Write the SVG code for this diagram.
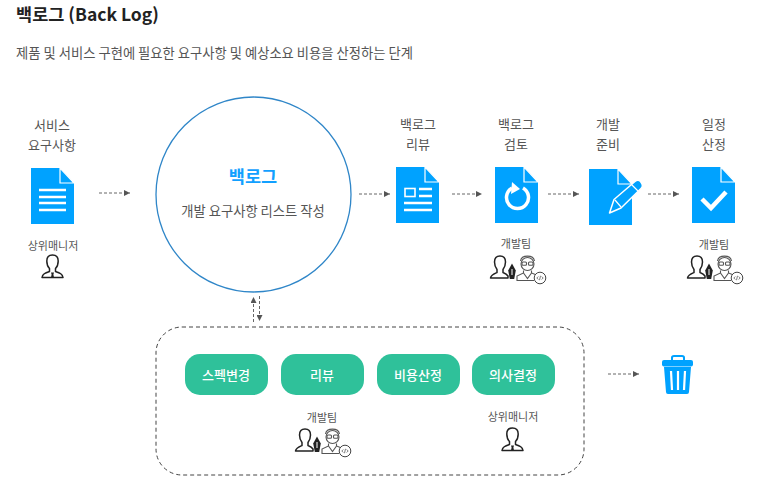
<svg xmlns="http://www.w3.org/2000/svg" width="773" height="491" viewBox="0 0 773 491">
<style>
text{font-family:"Noto Sans CJK KR","Noto Sans",sans-serif;text-anchor:middle;fill:#555}
.lab{font-size:13px}
.sm{font-size:11px}
.pill{fill:#2fc19a}
.pilltx{font-size:13px;font-weight:500;fill:#fff}
.conn{stroke:#666;stroke-width:1;stroke-dasharray:3 2;fill:none}
.doc{fill:#00a2ff}
.fold{fill:#00a2ff;stroke:#fff;stroke-width:1.2}
.w{stroke:#fff;stroke-width:2.400;fill:none}
.ic{fill:none;stroke:#222;stroke-width:1.500;stroke-linejoin:round}
.ic2{fill:none;stroke:#555;stroke-width:1.100}
</style>
<defs>
<marker id="a" markerWidth="7" markerHeight="6" refX="6" refY="3" orient="auto-start-reverse" markerUnits="userSpaceOnUse"><path d="M0 0L6 3L0 6z" fill="#555"/></marker>
<path id="docb" d="M0 0H29L43 15V56H0z"/>
<path id="docf" d="M29 0V15H43z"/>
<g id="person">
<path class="ic" d="M1 23.500C1.500 20 4 19 8.500 17.500V14.500C6.500 12.500 5.800 9.500 5.800 7C5.800 3 8 1 11.500 1S17.200 3 17.200 7C17.200 9.500 16.500 12.500 14.500 14.500V17.500C19 19 21.500 20 22 23.500z"/>
<path d="M10 18.500h3l-.6 2 .6 3h-3l.6-3z" fill="#222"/>
</g>
<g id="team">
<path class="ic" d="M.5 23C1 20 3.500 19 7 17.500V14.500C5.500 12.500 4.500 10 4.500 7C4.500 3 6.500 1 10 1S15.500 3 15.500 7C15.500 10 14.500 12.500 13 14.500V17.500C15.500 18.500 17 19.500 18 21V23z"/>
<path d="M22 8.500l3.800 7-1.600 8.500h-4.400l-1.600-8.500z" fill="#222"/>
<path d="M22 14v6" stroke="#fff" stroke-width="1"/>
<g class="ic2">
<circle cx="37.500" cy="9" r="6.500"/>
<path d="M30.500 6c1-6.500 13-6.500 14 0"/>
<rect x="32" y="7" width="4.500" height="3.200" rx="1"/><rect x="38.500" y="7" width="4.500" height="3.200" rx="1"/>
<path d="M33.500 15.500V18L27 21V25.500H44M41.500 15.500V18L46.500 20"/>
<path d="M33.500 18l4 5.500 4-5.500"/>
</g>
<circle cx="50" cy="23" r="5.800" fill="#fff" stroke="#444" stroke-width="1"/>
<path d="M48.300 21.500L46.800 23l1.500 1.500M51.700 21.500L53.200 23l-1.500 1.500M50.500 20.800L49.500 25.200" fill="none" stroke="#444" stroke-width=".7"/>
</g>
</defs>

<text x="87.500" y="21" style="font-size:17.500px;font-weight:700;fill:#222">백로그 (Back Log)</text>
<text x="214.500" y="58" style="font-size:13.300px;fill:#555">제품 및 서비스 구현에 필요한 요구사항 및 예상소요 비용을 산정하는 단계</text>

<g id="connectors">
<path class="conn" marker-end="url(#a)" d="M99 193H130"/>
<path class="conn" marker-end="url(#a)" d="M359 194H390"/>
<path class="conn" marker-end="url(#a)" d="M452 194H482"/>
<path class="conn" marker-end="url(#a)" d="M548 194H579"/>
<path class="conn" marker-end="url(#a)" d="M648 194H679"/>
<path class="conn" marker-end="url(#a)" d="M253.500 322V297"/>
<path class="conn" marker-end="url(#a)" d="M259.500 296V321"/>
<path class="conn" marker-end="url(#a)" d="M608 374H639"/>
</g>

<g id="node-service">
<text class="lab" x="52" y="130">서비스</text>
<text class="lab" x="52" y="150">요구사항</text>
<use href="#docb" class="doc" x="31" y="168"/><use href="#docf" class="fold" x="31" y="168"/>
<path class="w" d="M39 190H66M39 197H66M39 203H66M39 210H66"/>
<text class="sm" x="53" y="250">상위매니저</text>
<use href="#person" x="41" y="254"/>
</g>

<g id="node-backlog">
<circle cx="253.500" cy="194.500" r="97.500" fill="#fff" stroke="#2f86c8" stroke-width="1.300"/>
<text x="253" y="183" style="font-size:17.500px;font-weight:700;fill:#12a0ff">백로그</text>
<text x="253" y="216" style="font-size:13.300px">개발 요구사항 리스트 작성</text>
</g>

<g id="node-review">
<text class="lab" x="418" y="129">백로그</text>
<text class="lab" x="418" y="149">리뷰</text>
<use href="#docb" class="doc" x="396" y="167"/><use href="#docf" class="fold" x="396" y="167"/>
<rect x="405" y="188.500" width="10" height="8" fill="none" stroke="#fff" stroke-width="1.600"/>
<path class="w" d="M419 189H432M419 196H432M404 203H432M404 210H432" stroke-width="2"/>
</g>

<g id="node-check">
<text class="lab" x="516" y="129">백로그</text>
<text class="lab" x="516" y="149">검토</text>
<use href="#docb" class="doc" x="495" y="167"/><use href="#docf" class="fold" x="495" y="167"/>
<path d="M512 188A11 11 0 1 0 523 188" fill="none" stroke="#fff" stroke-width="3.500"/>
<path d="M512 182L520 189L511 194z" fill="#fff"/>
<text class="sm" x="516" y="248">개발팀</text>
<use href="#team" x="490" y="255"/>
</g>

<g id="node-prep">
<text class="lab" x="608" y="129">개발</text>
<text class="lab" x="608" y="149">준비</text>
<use href="#docb" class="doc" x="589" y="169"/><use href="#docf" class="fold" x="589" y="169"/>
<path d="M609.500 213L614 199.500L635 181.500Q638 179 640.500 181.500L641.500 183Q643.500 186 641 188.500L621 208z" fill="#00a2ff" stroke="#fff" stroke-width="1.500" stroke-linejoin="round"/>
<path d="M615 200L621 207M631.500 184.500L638 191" stroke="#fff" stroke-width="1.200" fill="none"/>
</g>

<g id="node-schedule">
<text class="lab" x="714" y="129">일정</text>
<text class="lab" x="714" y="149">산정</text>
<use href="#docb" class="doc" x="692" y="167"/><use href="#docf" class="fold" x="692" y="167"/>
<path d="M702 199L711 208L726 192" fill="none" stroke="#fff" stroke-width="4.500"/>
<text class="sm" x="714" y="249">개발팀</text>
<use href="#team" x="687" y="255"/>
</g>

<g id="group-changes">
<rect x="156" y="327" width="428" height="148" rx="26" fill="#fff" stroke="#444" stroke-width="1" stroke-dasharray="4 3"/>
</g>
<g id="node-spec"><rect class="pill" x="185" y="354" width="83" height="41" rx="15"/><text class="pilltx" x="226" y="380">스펙변경</text></g>
<g id="node-review2"><rect class="pill" x="281" y="354" width="83" height="41" rx="15"/><text class="pilltx" x="322" y="380">리뷰</text></g>
<g id="node-cost"><rect class="pill" x="377" y="354" width="83" height="41" rx="15"/><text class="pilltx" x="418" y="380">비용산정</text></g>
<g id="node-decide"><rect class="pill" x="472" y="354" width="83" height="41" rx="15"/><text class="pilltx" x="513" y="380">의사결정</text></g>
<g id="team-dev"><text class="sm" x="322" y="422">개발팀</text><use href="#team" x="295" y="428"/></g>
<g id="team-mgr"><text class="sm" x="513" y="421">상위매니저</text><use href="#person" x="501" y="427"/></g>

<g id="node-trash" fill="#00a2ff">
<path d="M672 361V357.500Q672 356 674 356H682Q684 356 684 357.500V361" fill="none" stroke="#00a2ff" stroke-width="2"/>
<rect x="662" y="360" width="31" height="6.500" rx="2"/>
<path d="M664 367H691L689 392Q689 394 687 394H668Q666 394 666 392z"/>
<path d="M671 371L672 390M678 371V390M685 371L684 390" stroke="#fff" stroke-width="2.200"/>
</g>
</svg>
